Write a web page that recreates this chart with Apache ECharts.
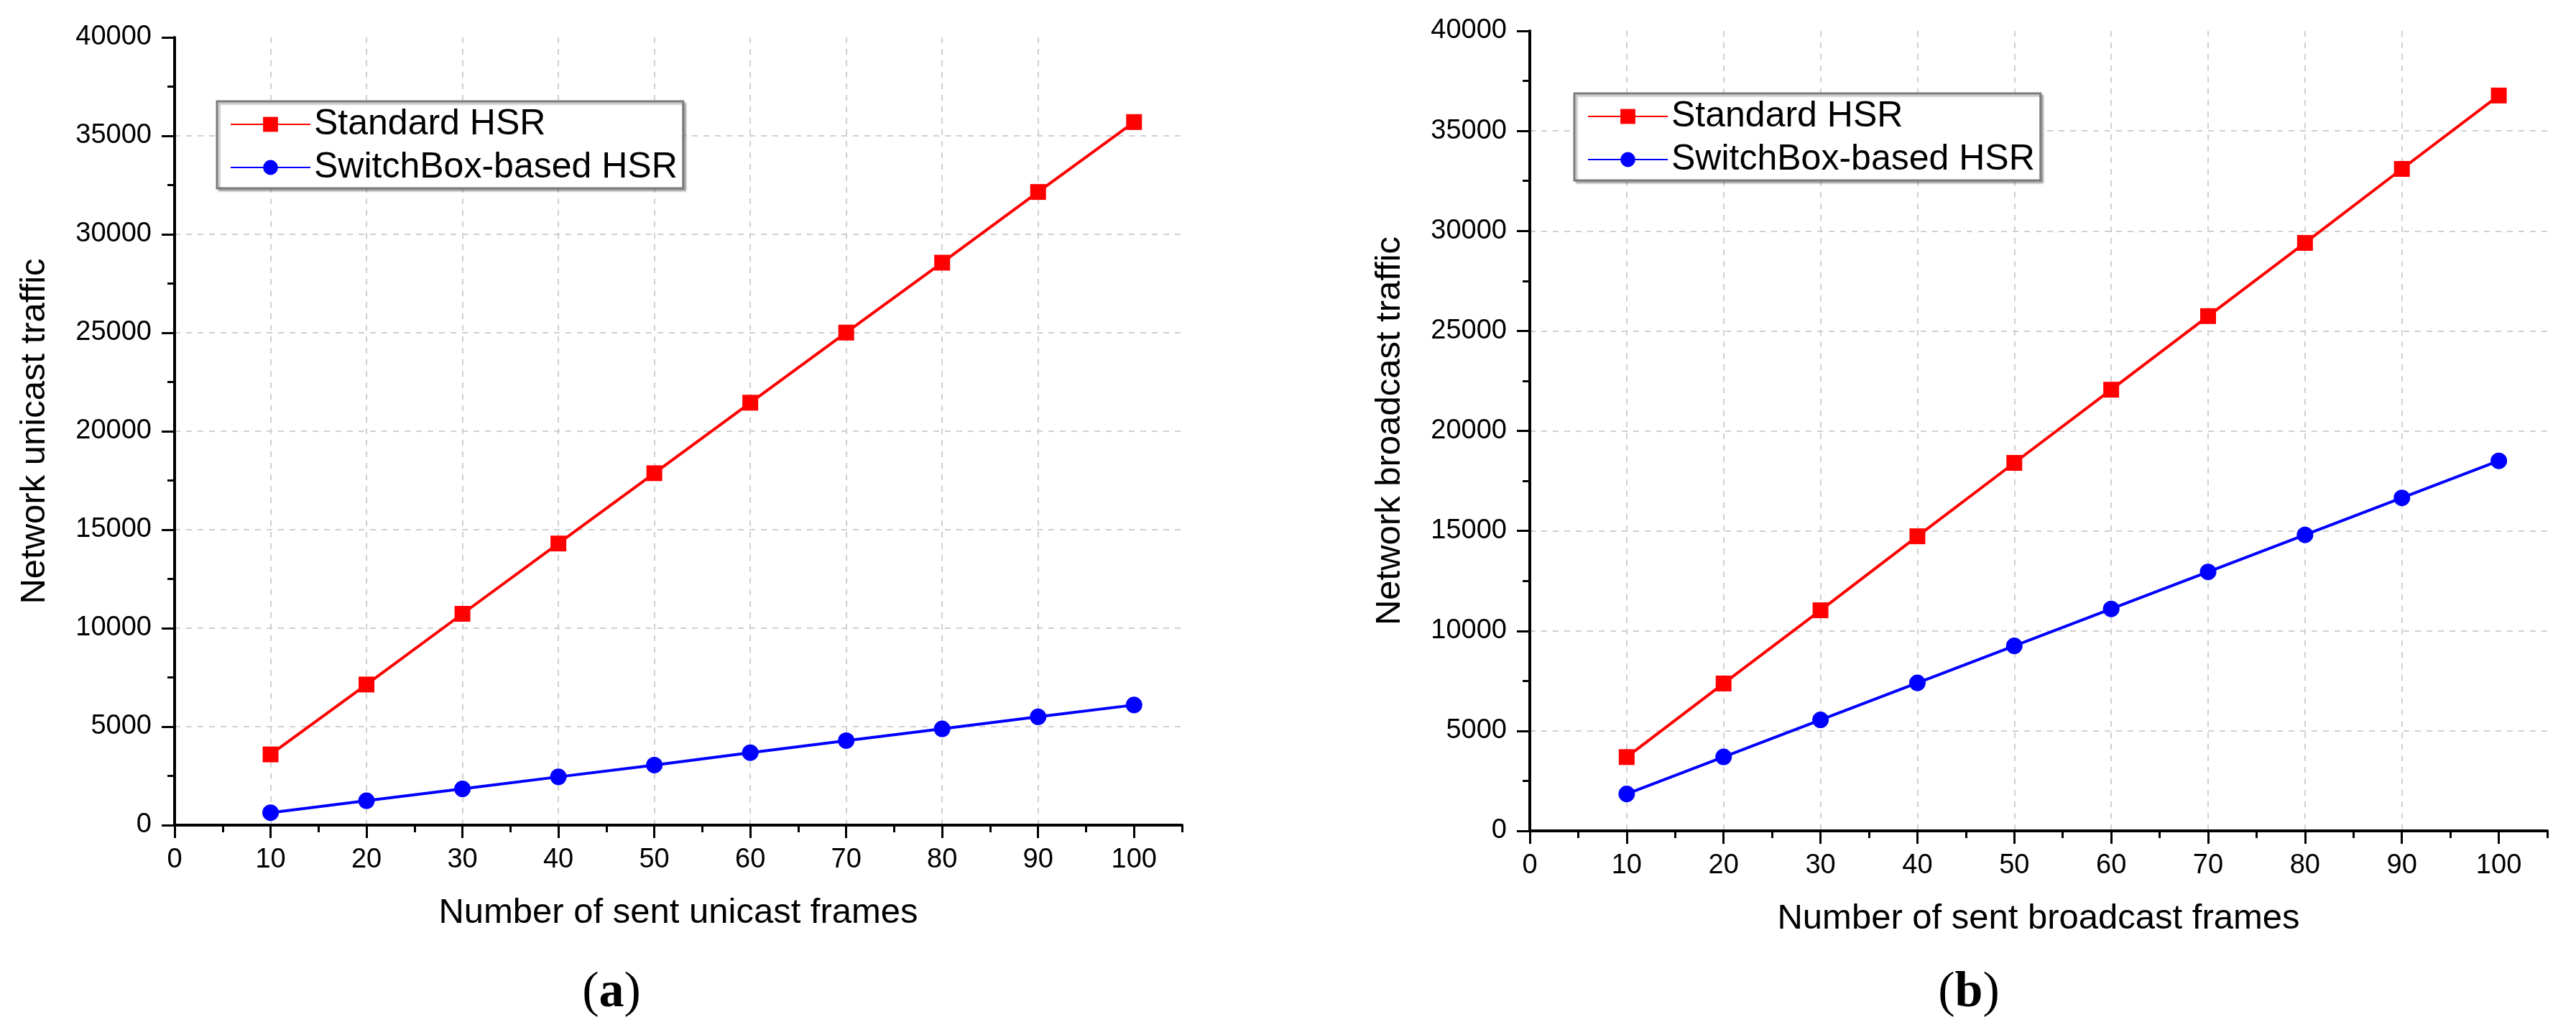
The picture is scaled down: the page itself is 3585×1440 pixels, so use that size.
<!DOCTYPE html>
<html>
<head>
<meta charset="utf-8">
<script src="https://cdn.jsdelivr.net/npm/echarts@6/dist/echarts.min.js"></script>
<style>
html,body{margin:0;padding:0;background:#fff;}
#chart{width:3585px;height:1440px;}
</style>
</head>
<body>
<div id="chart"></div>
<script>
// ---- data ----
var framesA = [10, 20, 30, 40, 50, 60, 70, 80, 90, 100];
var standardA = [3590, 7140, 10730, 14300, 17870, 21450, 25010, 28560, 32150, 35700];
var switchboxA = [630, 1240, 1840, 2450, 3050, 3680, 4290, 4890, 5500, 6100];

var framesB = [10, 20, 30, 40, 50, 60, 70, 80, 90, 100];
var standardB = [3690, 7370, 11030, 14730, 18400, 22060, 25740, 29400, 33100, 36770];
var switchboxB = [1850, 3700, 5550, 7400, 9250, 11100, 12950, 14800, 16650, 18500];

var xMajorTicks = [0, 10, 20, 30, 40, 50, 60, 70, 80, 90, 100];
var xMinorTicks = [5, 15, 25, 35, 45, 55, 65, 75, 85, 95, 105];
var yMinorTicks = [2500, 7500, 12500, 17500, 22500, 27500, 32500, 37500];

var seriesNames = ['Standard HSR', 'SwitchBox-based HSR'];
var xTitles = ['Number of sent unicast frames', 'Number of sent broadcast frames'];
var yTitles = ['Network unicast traffic', 'Network broadcast traffic'];
var captions = ['a', 'b'];

function pairs(xs, ys) { return xs.map(function (x, i) { return [x, ys[i]]; }); }

var FONT = 'Liberation Sans, Arial, sans-serif';
var chart = echarts.init(document.getElementById('chart'), null, {renderer: 'canvas'});

var grids = [
  {left: 243, top: 52, right: 1940, bottom: 292},
  {left: 2129, top: 43, right: 40, bottom: 284}
];

var xAxes = [], yAxes = [], series = [], legends = [];
var legendPos = [{left: 302, top: 141}, {left: 2191, top: 130}];
var data = [[standardA, switchboxA, framesA], [standardB, switchboxB, framesB]];

for (var g = 0; g < 2; g++) {
  xAxes.push({
    type: 'value', gridIndex: g, min: 0, max: 105, interval: 10,
    name: xTitles[g], nameLocation: 'middle', nameGap: 98,
    nameTextStyle: {fontFamily: FONT, fontSize: 49, color: '#000'},
    axisLine: {show: true, onZero: false, lineStyle: {color: '#000', width: 4}},
    axisTick: {show: true, inside: false, length: 18, customValues: xMajorTicks, lineStyle: {color: '#000', width: 3}},
    axisLabel: {show: true, customValues: xMajorTicks, margin: 30, fontFamily: FONT, fontSize: 38, color: '#000'},
    splitLine: {show: true, showMaxLine: false, lineStyle: {color: '#d0d0d0', width: 2, type: [8, 8]}}
  });
  xAxes.push({
    type: 'value', gridIndex: g, min: 0, max: 105, interval: 5, position: 'bottom',
    axisLine: {show: false},
    axisTick: {show: true, inside: false, length: 10, customValues: xMinorTicks, lineStyle: {color: '#000', width: 3}},
    axisLabel: {show: false}, splitLine: {show: false}
  });
  yAxes.push({
    type: 'value', gridIndex: g, min: 0, max: 40000, interval: 5000,
    name: yTitles[g], nameLocation: 'middle', nameGap: 170,
    nameTextStyle: {fontFamily: FONT, fontSize: 49, color: '#000'},
    axisLine: {show: true, onZero: false, lineStyle: {color: '#000', width: 4}},
    axisTick: {show: true, inside: false, length: 18, lineStyle: {color: '#000', width: 3}},
    axisLabel: {show: true, margin: 32, fontFamily: FONT, fontSize: 38, color: '#000',
      formatter: function (v) { return String(v); }},
    splitLine: {show: true, showMaxLine: false, lineStyle: {color: '#d0d0d0', width: 2, type: [8, 8]}}
  });
  yAxes.push({
    type: 'value', gridIndex: g, min: 0, max: 40000, interval: 2500, position: 'left',
    axisLine: {show: false},
    axisTick: {show: true, inside: false, length: 10, customValues: yMinorTicks, lineStyle: {color: '#000', width: 3}},
    axisLabel: {show: false}, splitLine: {show: false}
  });

  series.push({
    name: seriesNames[0], type: 'line', xAxisIndex: g * 2, yAxisIndex: g * 2,
    data: pairs(data[g][2], data[g][0]),
    symbol: 'rect', symbolSize: 22, showAllSymbol: true,
    lineStyle: {color: '#ff0000', width: 4}, itemStyle: {color: '#ff0000'},
    emphasis: {disabled: true}, animation: false, z: 3
  });
  series.push({
    name: seriesNames[1], type: 'line', xAxisIndex: g * 2, yAxisIndex: g * 2,
    data: pairs(data[g][2], data[g][1]),
    symbol: 'circle', symbolSize: 23, showAllSymbol: true,
    lineStyle: {color: '#0000ff', width: 4}, itemStyle: {color: '#0000ff'},
    emphasis: {disabled: true}, animation: false, z: 3
  });

  legends.push({
    data: seriesNames, orient: 'vertical',
    left: legendPos[g].left, top: legendPos[g].top,
    itemWidth: 111, itemHeight: 26, itemGap: 10,
    padding: [7, 8, 4, 18],
    backgroundColor: '#fff', borderColor: '#7a7a7a', borderWidth: 3,
    shadowColor: 'rgba(0,0,0,0.25)', shadowOffsetX: 3, shadowOffsetY: 3, shadowBlur: 2,
    textStyle: {fontFamily: FONT, fontSize: 50, color: '#000', lineHeight: 49},
    selectedMode: false
  });
}

var capStyle = function (c, x) {
  return {type: 'text', x: x, y: 1382, style: {
    text: '({b|' + c + '})',
    rich: {b: {fontWeight: 'bold', fontFamily: 'Liberation Serif, serif', fontSize: 70, fill: '#000'}},
    fontFamily: 'Liberation Serif, serif', fontSize: 70, fill: '#000', align: 'center', verticalAlign: 'middle'}};
};

var option = {
  backgroundColor: '#fff',
  animation: false,
  grid: grids,
  xAxis: xAxes,
  yAxis: yAxes,
  legend: legends,
  series: series,
  graphic: [capStyle(captions[0], 851), capStyle(captions[1], 2740)]
};
chart.setOption(option);
</script>
</body>
</html>
